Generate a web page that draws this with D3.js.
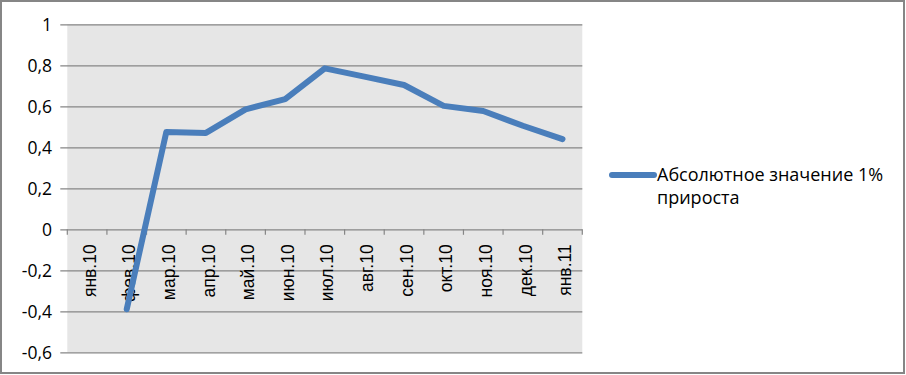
<!DOCTYPE html>
<html><head><meta charset="utf-8">
<script src="https://cdn.jsdelivr.net/npm/d3@7"></script>
<style>html,body{margin:0;padding:0;background:#fff;}svg{display:block;}</style>
</head><body>
<svg id="c" width="906" height="375"></svg>
<script>
const categories = ["янв.10","фев.10","мар.10","апр.10","май.10","июн.10","июл.10","авг.10","сен.10","окт.10","ноя.10","дек.10","янв.11"];
const values = [null,-0.39,0.475,0.47,0.585,0.635,0.785,0.745,0.704,0.602,0.577,0.505,0.44];
const yTicks = [-0.6,-0.4,-0.2,0,0.2,0.4,0.6,0.8,1];
const seriesName = ["Абсолютное значение 1%","прироста"];

const svg = d3.select("#c");
const W = 906, H = 375;
const pL = 67.3, pR = 582.3, pT = 24.3, pB = 352.3;
const font = "'Open Sans', sans-serif";
const catFont = "'Liberation Sans', Arial, sans-serif";

svg.append("rect").attr("x",1).attr("y",1).attr("width",W-3).attr("height",H-3)
  .attr("fill","#fff").attr("stroke","#868686").attr("stroke-width",2);

const x = d3.scaleBand().domain(categories).range([pL,pR]).padding(0);
const y = d3.scaleLinear().domain([-0.6,1]).range([pB,pT]);

svg.append("rect").attr("x",pL).attr("y",pT).attr("width",pR-pL).attr("height",pB-pT).attr("fill","#e6e6e6");

// value axis with gridlines
const yAxis = d3.axisLeft(y).tickValues(yTicks).tickSize(pR-pL+7).tickFormat("");
const yg = svg.append("g").attr("transform",`translate(${pR},0)`).call(yAxis);
yg.select(".domain").remove();
yg.selectAll(".tick line").attr("stroke","#868686").attr("stroke-width",1.2);
const yl = svg.append("g");
yl.selectAll("text").data(yTicks).join("text")
  .attr("x",52).attr("y",d=>y(d)).attr("dy","0.36em").attr("text-anchor","end")
  .attr("font-family",font).attr("font-size",17.5).attr("fill","#000")
  .text(d => (d<0?"-":"") + (Math.abs(d)===0?"0":Math.abs(d)===1?"1":Math.abs(d).toFixed(1).replace(".",",")));

// category axis at 0
const xg = svg.append("g").attr("transform",`translate(0,${y(0)})`);
const bounds = d3.range(categories.length+1).map(i => pL + x.step()*i);
xg.selectAll("line.tk").data(bounds).join("line").attr("class","tk")
  .attr("x1",d=>d).attr("x2",d=>d).attr("y1",0).attr("y2",5.5)
  .attr("stroke","#868686").attr("stroke-width",1.2);
xg.selectAll("text.lb").data(categories).join("text").attr("class","lb")
  .attr("transform",d=>`translate(${x(d)+x.bandwidth()/2+2.5},15) rotate(-90)`)
  .attr("dy","0.35em").attr("text-anchor","end")
  .attr("font-family",catFont).attr("font-size",17.5).attr("fill","#000")
  .text(d=>d);

// line
const line = d3.line().defined(d=>d.v!==null)
  .x(d=>x(d.c)+x.bandwidth()/2).y(d=>y(d.v));
svg.append("path").datum(categories.map((c,i)=>({c,v:values[i]})))
  .attr("d",line).attr("fill","none").attr("stroke","#4a7ebb").attr("stroke-width",6)
  .attr("stroke-linejoin","round").attr("stroke-linecap","round");

// legend
svg.append("line").attr("x1",612).attr("x2",654).attr("y1",175).attr("y2",175)
  .attr("stroke","#4a7ebb").attr("stroke-width",6).attr("stroke-linecap","round");
svg.append("g").selectAll("text").data(seriesName).join("text")
  .attr("x",657).attr("y",(d,i)=>181+i*22.7)
  .attr("font-family",font).attr("font-size",18).attr("fill","#000")
  .text(d=>d);
</script>
</body></html>
